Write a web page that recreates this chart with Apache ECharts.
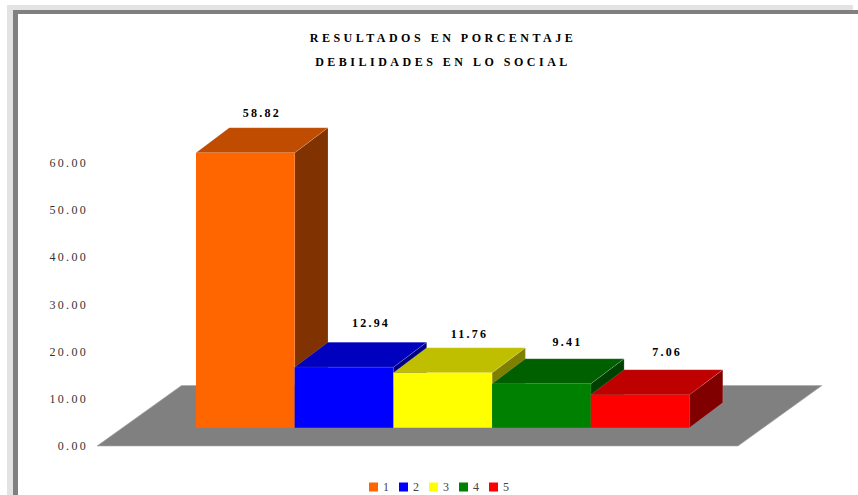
<!DOCTYPE html>
<html><head><meta charset="utf-8">
<style>
html,body{margin:0;padding:0;background:#fff}
#c{width:858px;height:495px}
#c text[style*="Times"]{letter-spacing:3.5px}
#c text[style*="Georgia"]{letter-spacing:2.2px}
#c text[style*=", serif"]{letter-spacing:2.3px}
</style>
<script src="https://cdn.jsdelivr.net/npm/echarts@6/dist/echarts.min.js"></script>
</head><body><div id="c"></div>
<script>
var titleLines = ['RESULTADOS EN PORCENTAJE', 'DEBILIDADES EN LO SOCIAL'];
var categories = ['1', '2', '3', '4', '5'];
var values = [58.82, 12.94, 11.76, 9.41, 7.06];
var yTicks = [0, 60, 10];

var frontColors = ['#FF6600', '#0000FF', '#FFFF00', '#008000', '#FF0000'];
var topColors = ['#BF4C00', '#0000BF', '#BFBF00', '#006000', '#BF0000'];
var sideColors = ['#803300', '#000080', '#808000', '#004000', '#800000'];
var labelShift = [17.5, 28, 27.7, 27, 28];
var labelLift = [39.5, 44, 38.7, 42, 42.3];
var depthX = 33.3, depthY = 25;

function barItem(i) {
  return function (params, api) {
    var c = api.coord([i, values[i]]);
    var b = api.coord([i, 0]);
    var hw = api.size([1, 0])[0] / 2;
    var x0 = c[0] - hw, x1 = c[0] + hw, yt = c[1], yb = b[1];
    return {
      type: 'group',
      children: [
        {type: 'polygon', shape: {points: [[x1, yt], [x1 + depthX, yt - depthY], [x1 + depthX, yb - depthY], [x1, yb]]},
          style: {fill: sideColors[i], stroke: 'rgba(255,255,255,0.25)', lineWidth: 0.6}},
        {type: 'polygon', shape: {points: [[x0, yt], [x0 + depthX, yt - depthY], [x1 + depthX, yt - depthY], [x1, yt]]},
          style: {fill: topColors[i], stroke: 'rgba(255,255,255,0.25)', lineWidth: 0.6}},
        {type: 'rect', shape: {x: x0, y: yt, width: x1 - x0, height: yb - yt}, style: {fill: frontColors[i]}},
        {type: 'text', x: c[0] + labelShift[i] - 1, y: yt - labelLift[i],
          style: {text: values[i].toFixed(2), fill: '#000', font: 'bold 12px Liberation Serif, Georgia', align: 'center', verticalAlign: 'middle'}}
      ]
    };
  };
}

function floorItem(params, api) {
  var s = params.coordSys;
  var yb = s.y + s.height, yt = yb - 60.5;
  return {type: 'polygon', shape: {points: [[s.x - 99, yb], [s.x + s.width + 48.5, yb], [s.x + s.width + 132.5, yt], [s.x - 14.5, yt]]},
    style: {fill: '#808080', stroke: '#a8a8a8', lineWidth: 0.6}};
}

var series = [{type: 'custom', name: 'floor', data: [0], renderItem: floorItem, silent: true}];
categories.forEach(function (name, i) {
  series.push({type: 'custom', name: name, yAxisIndex: 1, data: [[i, values[i]]], renderItem: barItem(i),
    itemStyle: {color: frontColors[i]}, encode: {x: 0, y: 1}});
});

var chart = echarts.init(document.getElementById('c'), null, {renderer: 'svg'});
chart.setOption({
  animation: false,
  backgroundColor: '#fff',
  title: {
    text: titleLines.join('\n'), left: 438, top: 21, textAlign: 'center',
    textStyle: {fontFamily: 'Liberation Serif, Times', fontWeight: 'bold', fontSize: 12, lineHeight: 24, color: '#000'}
  },
  legend: {
    data: categories, left: 369, top: 481, padding: 0, itemWidth: 9, itemHeight: 9, itemGap: 10, icon: 'rect',
    textStyle: {fontFamily: 'Liberation Serif, serif', fontSize: 12, color: '#444'}
  },
  grid: {left: 196, right: 168.5, top: 163, bottom: 49},
  xAxis: {type: 'category', data: categories, show: false},
  yAxis: [
    {type: 'value', min: yTicks[0], max: yTicks[1], interval: yTicks[2],
      axisLine: {show: false}, axisTick: {show: false}, splitLine: {show: false},
      axisLabel: {margin: 108, color: '#333', fontFamily: 'Liberation Serif, serif', fontSize: 12, formatter: function (v) { return v.toFixed(2); }}},
    {type: 'value', min: -3.914, max: 56.62, show: false, splitLine: {show: false}}
  ],
  graphic: [
    {type: 'rect', silent: true, shape: {x: 7, y: 5, width: 846, height: 5}, style: {fill: '#e3e3e3'}},
    {type: 'rect', silent: true, shape: {x: 7, y: 5, width: 6, height: 490}, style: {fill: '#e3e3e3'}},
    {type: 'rect', silent: true, shape: {x: 13, y: 10, width: 845, height: 4}, style: {fill: '#808080'}},
    {type: 'rect', silent: true, shape: {x: 13, y: 10, width: 5, height: 485}, style: {fill: '#808080'}}
  ],
  series: series
});
</script></body></html>
